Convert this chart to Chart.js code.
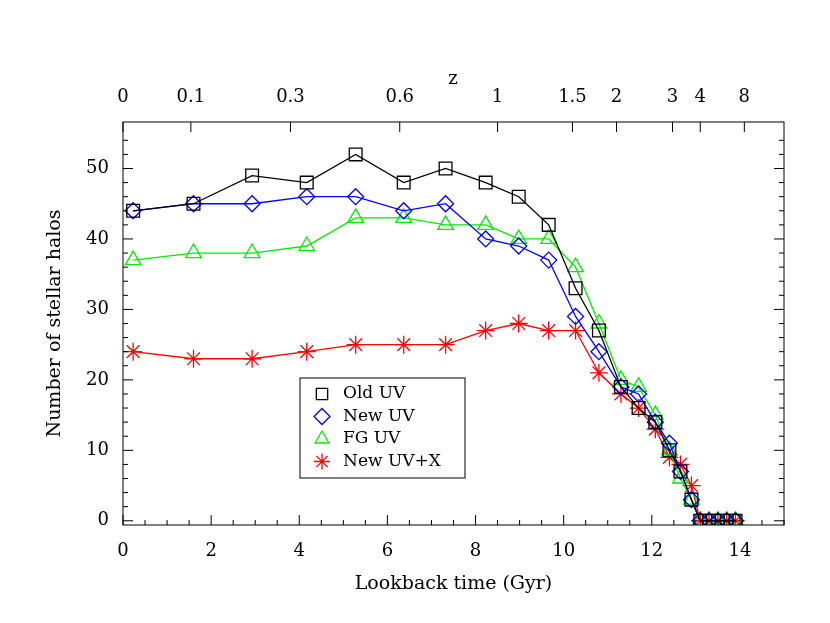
<!DOCTYPE html>
<html><head><meta charset="utf-8">
<script src="https://cdn.jsdelivr.net/npm/chart.js@4/dist/chart.umd.min.js"></script>
<style>html,body{margin:0;padding:0;background:#fff}#w{width:830px;height:623px}</style>
</head><body><div id="w"><canvas id="c"></canvas></div>
<script>
const lookback=[0.23,1.6,2.93,4.17,5.28,6.37,7.32,8.23,8.98,9.66,10.27,10.8,11.3,11.7,12.08,12.4,12.65,12.9,13.1,13.3,13.5,13.7,13.9];
const oldUV=[44,45,49,48,52,48,50,48,46,42,33,27,19,16,14,10,7,3,0,0,0,0,0];
const newUV=[44,45,45,46,46,44,45,40,39,37,29,24,19,18,14,11,7,3,0,0,0,0,0];
const fgUV=[37,38,38,39,43,43,42,42,40,40,36,28,20,19,15,10,6,3,0,0,0,0,0];
const newUVX=[24,23,23,24,25,25,25,27,28,27,27,21,18,16,13,9,8,5,0,0,0,0,0];
const xTicks=[0,2,4,6,8,10,12,14];
const yTicks=[0,10,20,30,40,50];
const zLabels=['0','0.1','0.3','0.6','1','1.5','2','3','4','8'];
const zPos=[0,1.54,3.8,6.28,8.5,10.2,11.2,12.47,13.1,14.1];
const F='"DejaVu Serif","Liberation Serif",serif';
function pts(v){return v.map((y,i)=>({x:lookback[i],y}));}
const ds=[
 {label:'Old UV',data:pts(oldUV),borderColor:'#000',pointStyle:'rect',pointRadius:9},
 {label:'New UV',data:pts(newUV),borderColor:'#0000ff',pointStyle:'rectRot',pointRadius:8},
 {label:'FG UV',data:pts(fgUV),borderColor:'#00ee00',pointStyle:'triangle',pointRadius:9},
 {label:'New UV+X',data:pts(newUVX),borderColor:'#ff0000',pointStyle:'star',pointRadius:9}
].map(d=>Object.assign(d,{backgroundColor:'rgba(0,0,0,0)',pointBackgroundColor:'rgba(0,0,0,0)',pointBorderColor:d.borderColor,borderWidth:1.3,pointBorderWidth:1.3,tension:0}));
const framePlugin={id:'frame',afterDraw(ch){
 const c=ch.ctx,a=ch.chartArea;c.save();c.strokeStyle='#000';c.lineWidth=1;
 c.strokeRect(a.left,a.top,a.right-a.left,a.bottom-a.top);
 const sx=ch.scales.x,sy=ch.scales.y;c.beginPath();
 for(let v=0;v<=15;v+=0.5){const p=sx.getPixelForValue(v),L=(v%2===0)?10:5;c.moveTo(p,a.bottom);c.lineTo(p,a.bottom-L);}
 zPos.forEach(v=>{const p=sx.getPixelForValue(v);c.moveTo(p,a.top);c.lineTo(p,a.top+10);});
 for(let v=0;v<=55;v+=2){const p=sy.getPixelForValue(v),L=(v%10===0)?10:5;c.moveTo(a.left,p);c.lineTo(a.left+L,p);c.moveTo(a.right,p);c.lineTo(a.right-L,p);}
 c.stroke();
 const lx=300,ly=378,lw=165,lh=100;c.strokeRect(lx,ly,lw,lh);
 c.font='17px '+F;c.textBaseline='middle';
 ds.forEach((d,i)=>{const y=ly+16+i*22.5;
  c.fillStyle='rgba(0,0,0,0)';c.strokeStyle=d.borderColor;c.lineWidth=1.3;
  Chart.helpers.drawPoint(c,{pointStyle:d.pointStyle,radius:8,rotation:0,borderWidth:1.3},lx+22,y);
  c.fillStyle='#000';c.fillText(d.label,lx+43,y);});
 c.font='18px '+F;c.textAlign='center';c.fillStyle='#000';c.fillText('z',453,79);
 c.restore();}};
new Chart(document.getElementById('c'),{type:'line',data:{datasets:ds},plugins:[framePlugin],
 options:{responsive:true,maintainAspectRatio:false,animation:false,
 layout:{padding:{right:46,left:40,top:0,bottom:24}},
 plugins:{legend:{display:false},tooltip:{enabled:false}},
 scales:{
  x:{type:'linear',min:0,max:15,grid:{display:false},border:{display:false},
   afterBuildTicks(s){s.ticks=xTicks.map(v=>({value:v}));},
   afterFit(s){s.height=74;},
   ticks:{color:'#000',font:{family:F,size:18},padding:8,maxRotation:0},
   title:{display:true,text:'Lookback time (Gyr)',color:'#000',font:{family:F,size:19},padding:{top:4}}},
  x2:{type:'linear',position:'top',min:0,max:15,grid:{display:false},border:{display:false},
   afterBuildTicks(s){s.ticks=zPos.map(v=>({value:v}));},
   afterFit(s){s.height=122;},
   ticks:{color:'#000',font:{family:F,size:18},padding:6,maxRotation:0,autoSkip:false,callback:(v,i)=>zLabels[i]}},
  y:{type:'linear',min:-0.6,max:56.6,grid:{display:false},border:{display:false},
   afterBuildTicks(s){s.ticks=yTicks.map(v=>({value:v}));},
   afterFit(s){s.width=83;},
   ticks:{color:'#000',font:{family:F,size:18},padding:6},
   title:{display:true,text:'Number of stellar halos',color:'#000',font:{family:F,size:19},padding:{bottom:4}}}
 }}});
</script></body></html>
